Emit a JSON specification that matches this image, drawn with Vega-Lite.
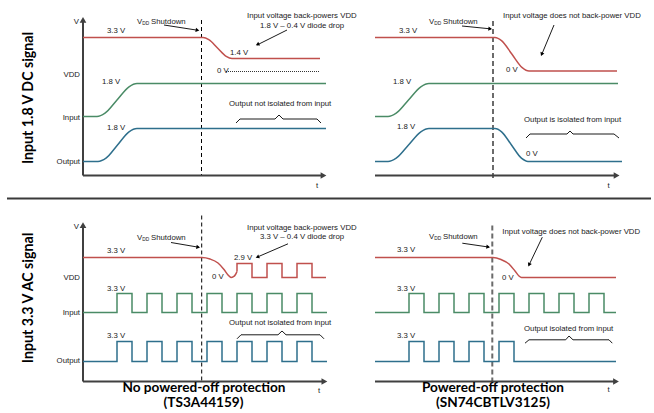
{
"$schema":"https://vega.github.io/schema/vega-lite/v6.json",
"padding":{"left":6,"top":11.5,"right":0,"bottom":3},
"config":{"view":{"stroke":null}},
"data":{"values":[
{"r":"dc","c":"no","k":"curve","s":"A1","g":"VDD","i":0,"t":0,"v":138},
{"r":"dc","c":"no","k":"curve","s":"A1","g":"VDD","i":1,"t":120,"v":138},
{"r":"dc","c":"no","k":"curve","s":"A1","g":"VDD","i":2,"t":125.8,"v":135.9},
{"r":"dc","c":"no","k":"curve","s":"A1","g":"VDD","i":3,"t":134.5,"v":127.5},
{"r":"dc","c":"no","k":"curve","s":"A1","g":"VDD","i":4,"t":143.2,"v":119.1},
{"r":"dc","c":"no","k":"curve","s":"A1","g":"VDD","i":5,"t":149,"v":117},
{"r":"dc","c":"no","k":"curve","s":"A1","g":"VDD","i":6,"t":237,"v":117},
{"r":"dc","c":"no","k":"curve","s":"A2","g":"Input","i":0,"t":0,"v":59},
{"r":"dc","c":"no","k":"curve","s":"A2","g":"Input","i":1,"t":14,"v":59},
{"r":"dc","c":"no","k":"curve","s":"A2","g":"Input","i":2,"t":22,"v":62.3},
{"r":"dc","c":"no","k":"curve","s":"A2","g":"Input","i":3,"t":34,"v":75.5},
{"r":"dc","c":"no","k":"curve","s":"A2","g":"Input","i":4,"t":46,"v":88.7},
{"r":"dc","c":"no","k":"curve","s":"A2","g":"Input","i":5,"t":54,"v":92},
{"r":"dc","c":"no","k":"curve","s":"A2","g":"Input","i":6,"t":243,"v":92},
{"r":"dc","c":"no","k":"curve","s":"A3","g":"Output","i":0,"t":0,"v":14},
{"r":"dc","c":"no","k":"curve","s":"A3","g":"Output","i":1,"t":15,"v":14},
{"r":"dc","c":"no","k":"curve","s":"A3","g":"Output","i":2,"t":23,"v":17.3},
{"r":"dc","c":"no","k":"curve","s":"A3","g":"Output","i":3,"t":34.5,"v":30.5},
{"r":"dc","c":"no","k":"curve","s":"A3","g":"Output","i":4,"t":46,"v":43.7},
{"r":"dc","c":"no","k":"curve","s":"A3","g":"Output","i":5,"t":54,"v":47},
{"r":"dc","c":"no","k":"curve","s":"A3","g":"Output","i":6,"t":243,"v":47},
{"r":"dc","c":"no","k":"note","s":"Aa1","i":0,"t":204,"v":145.5},
{"r":"dc","c":"no","k":"note","s":"Aa1","i":1,"t":174,"v":130.5},
{"r":"dc","c":"no","k":"note","s":"Aa2","i":0,"t":81,"v":150.5},
{"r":"dc","c":"no","k":"note","s":"Aa2","i":1,"t":115,"v":145.2},
{"r":"dc","c":"no","k":"note","s":"Ab","i":0,"t":153,"v":52.5},
{"r":"dc","c":"no","k":"note","s":"Ab","i":1,"t":157,"v":56.5},
{"r":"dc","c":"no","k":"note","s":"Ab","i":2,"t":192,"v":56.5},
{"r":"dc","c":"no","k":"note","s":"Ab","i":3,"t":196,"v":60.5},
{"r":"dc","c":"no","k":"note","s":"Ab","i":4,"t":200,"v":56.5},
{"r":"dc","c":"no","k":"note","s":"Ab","i":5,"t":234,"v":56.5},
{"r":"dc","c":"no","k":"note","s":"Ab","i":6,"t":238,"v":52.5},
{"r":"dc","c":"no","k":"head","t":174.5,"v":131,"ang":244},
{"r":"dc","c":"no","k":"head","t":114.5,"v":145.4,"ang":99},
{"r":"dc","c":"no","k":"axis","s":"Ax","i":0,"t":0,"v":0},
{"r":"dc","c":"no","k":"axis","s":"Ax","i":1,"t":239,"v":0},
{"r":"dc","c":"no","k":"axis","s":"Ay","i":0,"t":0,"v":0},
{"r":"dc","c":"no","k":"axis","s":"Ay","i":1,"t":0,"v":154},
{"r":"dc","c":"no","k":"axhead","t":240.5,"v":0,"ang":90},
{"r":"dc","c":"no","k":"axhead","t":0,"v":155.6,"ang":0},
{"r":"dc","c":"no","k":"dash","s":"Ad","i":0,"t":118.5,"v":155.5},
{"r":"dc","c":"no","k":"dash","s":"Ad","i":1,"t":118.5,"v":0},
{"r":"dc","c":"no","k":"dot","s":"Ao","i":0,"t":143,"v":104},
{"r":"dc","c":"no","k":"dot","s":"Ao","i":1,"t":237,"v":104},
{"r":"dc","c":"no","k":"sep","s":"As","i":0,"t":-76,"v":-23},
{"r":"dc","c":"no","k":"sep","s":"As","i":1,"t":568,"v":-23},
{"r":"dc","c":"no","k":"tl","t":24,"v":144.5,"txt":"3.3 V"},
{"r":"dc","c":"no","k":"tl","t":19,"v":93.5,"txt":"1.8 V"},
{"r":"dc","c":"no","k":"tl","t":24,"v":48,"txt":"1.8 V"},
{"r":"dc","c":"no","k":"tl","t":147,"v":122.5,"txt":"1.4 V"},
{"r":"dc","c":"no","k":"tl","t":134,"v":105,"txt":"0 V"},
{"r":"dc","c":"no","k":"tl","t":164,"v":159.5,"txt":"Input voltage back-powers VDD"},
{"r":"dc","c":"no","k":"tl","t":177,"v":149.5,"txt":"1.8 V – 0.4 V diode drop"},
{"r":"dc","c":"no","k":"tl","t":54,"v":153.5,"txt":"V"},
{"r":"dc","c":"no","k":"tl","t":68,"v":153.5,"txt":"Shutdown"},
{"r":"dc","c":"no","k":"ts","t":59.3,"v":151.5,"txt":"DD"},
{"r":"dc","c":"no","k":"tl","t":146,"v":71.5,"txt":"Output not isolated from input"},
{"r":"dc","c":"no","k":"tl","t":233,"v":-10,"txt":"t"},
{"r":"dc","c":"no","k":"tr","t":-4,"v":153.5,"txt":"V"},
{"r":"dc","c":"no","k":"tr","t":-3,"v":100.5,"txt":"VDD"},
{"r":"dc","c":"no","k":"tr","t":-3,"v":58,"txt":"Input"},
{"r":"dc","c":"no","k":"tr","t":-3,"v":14,"txt":"Output"},
{"r":"dc","c":"no","k":"tv","t":-54.5,"v":77.5,"txt":"Input 1.8 V DC signal"},

{"r":"dc","c":"yes","k":"curve","s":"B1","g":"VDD","i":0,"t":0,"v":138},
{"r":"dc","c":"yes","k":"curve","s":"B1","g":"VDD","i":1,"t":120,"v":138},
{"r":"dc","c":"yes","k":"curve","s":"B1","g":"VDD","i":2,"t":126.8,"v":134.6},
{"r":"dc","c":"yes","k":"curve","s":"B1","g":"VDD","i":3,"t":137,"v":121.2},
{"r":"dc","c":"yes","k":"curve","s":"B1","g":"VDD","i":4,"t":147.2,"v":107.9},
{"r":"dc","c":"yes","k":"curve","s":"B1","g":"VDD","i":5,"t":154,"v":104.5},
{"r":"dc","c":"yes","k":"curve","s":"B1","g":"VDD","i":6,"t":242,"v":104.5},
{"r":"dc","c":"yes","k":"curve","s":"B2","g":"Input","i":0,"t":0,"v":59},
{"r":"dc","c":"yes","k":"curve","s":"B2","g":"Input","i":1,"t":13,"v":59},
{"r":"dc","c":"yes","k":"curve","s":"B2","g":"Input","i":2,"t":21.2,"v":62.3},
{"r":"dc","c":"yes","k":"curve","s":"B2","g":"Input","i":3,"t":33.5,"v":75.5},
{"r":"dc","c":"yes","k":"curve","s":"B2","g":"Input","i":4,"t":45.8,"v":88.7},
{"r":"dc","c":"yes","k":"curve","s":"B2","g":"Input","i":5,"t":54,"v":92},
{"r":"dc","c":"yes","k":"curve","s":"B2","g":"Input","i":6,"t":243,"v":92},
{"r":"dc","c":"yes","k":"curve","s":"B3","g":"Output","i":0,"t":0,"v":14},
{"r":"dc","c":"yes","k":"curve","s":"B3","g":"Output","i":1,"t":13,"v":14},
{"r":"dc","c":"yes","k":"curve","s":"B3","g":"Output","i":2,"t":21.2,"v":17.3},
{"r":"dc","c":"yes","k":"curve","s":"B3","g":"Output","i":3,"t":33.5,"v":30.5},
{"r":"dc","c":"yes","k":"curve","s":"B3","g":"Output","i":4,"t":45.8,"v":43.7},
{"r":"dc","c":"yes","k":"curve","s":"B3","g":"Output","i":5,"t":54,"v":47},
{"r":"dc","c":"yes","k":"curve","s":"B3","g":"Output","i":6,"t":120,"v":47},
{"r":"dc","c":"yes","k":"curve","s":"B3","g":"Output","i":7,"t":126.6,"v":43.7},
{"r":"dc","c":"yes","k":"curve","s":"B3","g":"Output","i":8,"t":136.5,"v":30.5},
{"r":"dc","c":"yes","k":"curve","s":"B3","g":"Output","i":9,"t":146.4,"v":17.3},
{"r":"dc","c":"yes","k":"curve","s":"B3","g":"Output","i":10,"t":153,"v":14},
{"r":"dc","c":"yes","k":"curve","s":"B3","g":"Output","i":11,"t":247,"v":14},
{"r":"dc","c":"yes","k":"note","s":"Ba1","i":0,"t":87,"v":149.5},
{"r":"dc","c":"yes","k":"note","s":"Ba1","i":1,"t":116,"v":146.6},
{"r":"dc","c":"yes","k":"note","s":"Ba2","i":0,"t":179,"v":150.5},
{"r":"dc","c":"yes","k":"note","s":"Ba2","i":1,"t":166.5,"v":120.5},
{"r":"dc","c":"yes","k":"note","s":"Bb","i":0,"t":151,"v":37.5},
{"r":"dc","c":"yes","k":"note","s":"Bb","i":1,"t":155,"v":41.5},
{"r":"dc","c":"yes","k":"note","s":"Bb","i":2,"t":192,"v":41.5},
{"r":"dc","c":"yes","k":"note","s":"Bb","i":3,"t":195,"v":44.5},
{"r":"dc","c":"yes","k":"note","s":"Bb","i":4,"t":198,"v":41.5},
{"r":"dc","c":"yes","k":"note","s":"Bb","i":5,"t":239,"v":41.5},
{"r":"dc","c":"yes","k":"note","s":"Bb","i":6,"t":244,"v":37.5},
{"r":"dc","c":"yes","k":"head","t":115.2,"v":146.7,"ang":96},
{"r":"dc","c":"yes","k":"head","t":166.7,"v":121.2,"ang":203},
{"r":"dc","c":"yes","k":"axis","s":"Bx","i":0,"t":0,"v":0},
{"r":"dc","c":"yes","k":"axis","s":"Bx","i":1,"t":240,"v":0},
{"r":"dc","c":"yes","k":"axhead","t":241.6,"v":0,"ang":90},
{"r":"dc","c":"yes","k":"dash","s":"Bd","i":0,"t":118,"v":154.5},
{"r":"dc","c":"yes","k":"dash","s":"Bd","i":1,"t":118,"v":-2.5},
{"r":"dc","c":"yes","k":"tl","t":24,"v":144.5,"txt":"3.3 V"},
{"r":"dc","c":"yes","k":"tl","t":18,"v":93.5,"txt":"1.8 V"},
{"r":"dc","c":"yes","k":"tl","t":22,"v":48.5,"txt":"1.8 V"},
{"r":"dc","c":"yes","k":"tl","t":131,"v":105.5,"txt":"0 V"},
{"r":"dc","c":"yes","k":"tl","t":151,"v":21.5,"txt":"0 V"},
{"r":"dc","c":"yes","k":"tl","t":128,"v":159.5,"txt":"Input voltage does not back-power VDD"},
{"r":"dc","c":"yes","k":"tl","t":54,"v":153.5,"txt":"V"},
{"r":"dc","c":"yes","k":"tl","t":68,"v":153.5,"txt":"Shutdown"},
{"r":"dc","c":"yes","k":"ts","t":59.3,"v":151.5,"txt":"DD"},
{"r":"dc","c":"yes","k":"tl","t":149,"v":55.5,"txt":"Output is isolated from input"},
{"r":"dc","c":"yes","k":"tl","t":232.5,"v":-10,"txt":"t"},

{"r":"ac","c":"no","k":"curve","s":"C1","g":"VDD","i":0,"t":0,"v":124},
{"r":"ac","c":"no","k":"curve","s":"C1","g":"VDD","i":1,"t":119,"v":124},
{"r":"ac","c":"no","k":"curve","s":"C1","g":"VDD","i":2,"t":127,"v":122.5},
{"r":"ac","c":"no","k":"curve","s":"C1","g":"VDD","i":3,"t":135,"v":118.5},
{"r":"ac","c":"no","k":"curve","s":"C1","g":"VDD","i":4,"t":141,"v":112},
{"r":"ac","c":"no","k":"curve","s":"C1","g":"VDD","i":5,"t":145.5,"v":106},
{"r":"ac","c":"no","k":"curve","s":"C1","g":"VDD","i":6,"t":148,"v":104},
{"r":"ac","c":"no","k":"curve","s":"C1","g":"VDD","i":7,"t":150.5,"v":104.8},
{"r":"ac","c":"no","k":"curve","s":"C1","g":"VDD","i":8,"t":152.5,"v":107},
{"r":"ac","c":"no","k":"curve","s":"C1","g":"VDD","i":9,"t":154,"v":110},
{"r":"ac","c":"no","k":"step","s":"C2","g":"VDD","i":0,"t":154,"v":110},
{"r":"ac","c":"no","k":"step","s":"C2","g":"VDD","i":1,"t":154,"v":118},
{"r":"ac","c":"no","k":"step","s":"C2","g":"VDD","i":2,"t":169,"v":118},
{"r":"ac","c":"no","k":"step","s":"C2","g":"VDD","i":3,"t":169,"v":104},
{"r":"ac","c":"no","k":"step","s":"C2","g":"VDD","i":4,"t":184,"v":104},
{"r":"ac","c":"no","k":"step","s":"C2","g":"VDD","i":5,"t":184,"v":118},
{"r":"ac","c":"no","k":"step","s":"C2","g":"VDD","i":6,"t":199,"v":118},
{"r":"ac","c":"no","k":"step","s":"C2","g":"VDD","i":7,"t":199,"v":104},
{"r":"ac","c":"no","k":"step","s":"C2","g":"VDD","i":8,"t":214,"v":104},
{"r":"ac","c":"no","k":"step","s":"C2","g":"VDD","i":9,"t":214,"v":118},
{"r":"ac","c":"no","k":"step","s":"C2","g":"VDD","i":10,"t":229,"v":118},
{"r":"ac","c":"no","k":"step","s":"C2","g":"VDD","i":11,"t":229,"v":104},
{"r":"ac","c":"no","k":"step","s":"C2","g":"VDD","i":12,"t":243,"v":104},
{"r":"ac","c":"no","k":"step","s":"C3","g":"Input","i":0,"t":0,"v":69},
{"r":"ac","c":"no","k":"step","s":"C3","g":"Input","i":1,"t":34,"v":69},
{"r":"ac","c":"no","k":"step","s":"C3","g":"Input","i":2,"t":34,"v":88},
{"r":"ac","c":"no","k":"step","s":"C3","g":"Input","i":3,"t":49,"v":88},
{"r":"ac","c":"no","k":"step","s":"C3","g":"Input","i":4,"t":49,"v":69},
{"r":"ac","c":"no","k":"step","s":"C3","g":"Input","i":5,"t":64,"v":69},
{"r":"ac","c":"no","k":"step","s":"C3","g":"Input","i":6,"t":64,"v":88},
{"r":"ac","c":"no","k":"step","s":"C3","g":"Input","i":7,"t":79,"v":88},
{"r":"ac","c":"no","k":"step","s":"C3","g":"Input","i":8,"t":79,"v":69},
{"r":"ac","c":"no","k":"step","s":"C3","g":"Input","i":9,"t":94,"v":69},
{"r":"ac","c":"no","k":"step","s":"C3","g":"Input","i":10,"t":94,"v":88},
{"r":"ac","c":"no","k":"step","s":"C3","g":"Input","i":11,"t":109,"v":88},
{"r":"ac","c":"no","k":"step","s":"C3","g":"Input","i":12,"t":109,"v":69},
{"r":"ac","c":"no","k":"step","s":"C3","g":"Input","i":13,"t":124,"v":69},
{"r":"ac","c":"no","k":"step","s":"C3","g":"Input","i":14,"t":124,"v":88},
{"r":"ac","c":"no","k":"step","s":"C3","g":"Input","i":15,"t":139,"v":88},
{"r":"ac","c":"no","k":"step","s":"C3","g":"Input","i":16,"t":139,"v":69},
{"r":"ac","c":"no","k":"step","s":"C3","g":"Input","i":17,"t":154,"v":69},
{"r":"ac","c":"no","k":"step","s":"C3","g":"Input","i":18,"t":154,"v":88},
{"r":"ac","c":"no","k":"step","s":"C3","g":"Input","i":19,"t":169,"v":88},
{"r":"ac","c":"no","k":"step","s":"C3","g":"Input","i":20,"t":169,"v":69},
{"r":"ac","c":"no","k":"step","s":"C3","g":"Input","i":21,"t":184,"v":69},
{"r":"ac","c":"no","k":"step","s":"C3","g":"Input","i":22,"t":184,"v":88},
{"r":"ac","c":"no","k":"step","s":"C3","g":"Input","i":23,"t":199,"v":88},
{"r":"ac","c":"no","k":"step","s":"C3","g":"Input","i":24,"t":199,"v":69},
{"r":"ac","c":"no","k":"step","s":"C3","g":"Input","i":25,"t":214,"v":69},
{"r":"ac","c":"no","k":"step","s":"C3","g":"Input","i":26,"t":214,"v":88},
{"r":"ac","c":"no","k":"step","s":"C3","g":"Input","i":27,"t":229,"v":88},
{"r":"ac","c":"no","k":"step","s":"C3","g":"Input","i":28,"t":229,"v":69},
{"r":"ac","c":"no","k":"step","s":"C3","g":"Input","i":29,"t":244,"v":69},
{"r":"ac","c":"no","k":"step","s":"C4","g":"Output","i":0,"t":0,"v":20},
{"r":"ac","c":"no","k":"step","s":"C4","g":"Output","i":1,"t":34,"v":20},
{"r":"ac","c":"no","k":"step","s":"C4","g":"Output","i":2,"t":34,"v":40},
{"r":"ac","c":"no","k":"step","s":"C4","g":"Output","i":3,"t":49,"v":40},
{"r":"ac","c":"no","k":"step","s":"C4","g":"Output","i":4,"t":49,"v":20},
{"r":"ac","c":"no","k":"step","s":"C4","g":"Output","i":5,"t":64,"v":20},
{"r":"ac","c":"no","k":"step","s":"C4","g":"Output","i":6,"t":64,"v":40},
{"r":"ac","c":"no","k":"step","s":"C4","g":"Output","i":7,"t":79,"v":40},
{"r":"ac","c":"no","k":"step","s":"C4","g":"Output","i":8,"t":79,"v":20},
{"r":"ac","c":"no","k":"step","s":"C4","g":"Output","i":9,"t":94,"v":20},
{"r":"ac","c":"no","k":"step","s":"C4","g":"Output","i":10,"t":94,"v":40},
{"r":"ac","c":"no","k":"step","s":"C4","g":"Output","i":11,"t":109,"v":40},
{"r":"ac","c":"no","k":"step","s":"C4","g":"Output","i":12,"t":109,"v":20},
{"r":"ac","c":"no","k":"step","s":"C4","g":"Output","i":13,"t":124,"v":20},
{"r":"ac","c":"no","k":"step","s":"C4","g":"Output","i":14,"t":124,"v":40},
{"r":"ac","c":"no","k":"step","s":"C4","g":"Output","i":15,"t":139,"v":40},
{"r":"ac","c":"no","k":"step","s":"C4","g":"Output","i":16,"t":139,"v":20},
{"r":"ac","c":"no","k":"step","s":"C4","g":"Output","i":17,"t":154,"v":20},
{"r":"ac","c":"no","k":"step","s":"C4","g":"Output","i":18,"t":154,"v":40},
{"r":"ac","c":"no","k":"step","s":"C4","g":"Output","i":19,"t":169,"v":40},
{"r":"ac","c":"no","k":"step","s":"C4","g":"Output","i":20,"t":169,"v":20},
{"r":"ac","c":"no","k":"step","s":"C4","g":"Output","i":21,"t":184,"v":20},
{"r":"ac","c":"no","k":"step","s":"C4","g":"Output","i":22,"t":184,"v":40},
{"r":"ac","c":"no","k":"step","s":"C4","g":"Output","i":23,"t":199,"v":40},
{"r":"ac","c":"no","k":"step","s":"C4","g":"Output","i":24,"t":199,"v":20},
{"r":"ac","c":"no","k":"step","s":"C4","g":"Output","i":25,"t":214,"v":20},
{"r":"ac","c":"no","k":"step","s":"C4","g":"Output","i":26,"t":214,"v":40},
{"r":"ac","c":"no","k":"step","s":"C4","g":"Output","i":27,"t":229,"v":40},
{"r":"ac","c":"no","k":"step","s":"C4","g":"Output","i":28,"t":229,"v":20},
{"r":"ac","c":"no","k":"step","s":"C4","g":"Output","i":29,"t":244,"v":20},
{"r":"ac","c":"no","k":"note","s":"Ca1","i":0,"t":88,"v":139},
{"r":"ac","c":"no","k":"note","s":"Ca1","i":1,"t":116,"v":134.2},
{"r":"ac","c":"no","k":"note","s":"Ca2","i":0,"t":205,"v":137.7},
{"r":"ac","c":"no","k":"note","s":"Ca2","i":1,"t":174,"v":124.3},
{"r":"ac","c":"no","k":"note","s":"Cb","i":0,"t":154,"v":42.7},
{"r":"ac","c":"no","k":"note","s":"Cb","i":1,"t":158,"v":46.7},
{"r":"ac","c":"no","k":"note","s":"Cb","i":2,"t":195,"v":46.7},
{"r":"ac","c":"no","k":"note","s":"Cb","i":3,"t":199,"v":50.5},
{"r":"ac","c":"no","k":"note","s":"Cb","i":4,"t":203,"v":46.7},
{"r":"ac","c":"no","k":"note","s":"Cb","i":5,"t":237,"v":46.7},
{"r":"ac","c":"no","k":"note","s":"Cb","i":6,"t":241,"v":42.7},
{"r":"ac","c":"no","k":"head","t":115.2,"v":134.3,"ang":100},
{"r":"ac","c":"no","k":"head","t":174.4,"v":124.4,"ang":247},
{"r":"ac","c":"no","k":"axis","s":"Cx","i":0,"t":0,"v":0},
{"r":"ac","c":"no","k":"axis","s":"Cx","i":1,"t":239,"v":0},
{"r":"ac","c":"no","k":"axis","s":"Cy","i":0,"t":0,"v":0},
{"r":"ac","c":"no","k":"axis","s":"Cy","i":1,"t":0,"v":155},
{"r":"ac","c":"no","k":"axhead","t":241.4,"v":0,"ang":90},
{"r":"ac","c":"no","k":"axhead","t":0,"v":156.4,"ang":0},
{"r":"ac","c":"no","k":"dash","s":"Cd","i":0,"t":118.7,"v":166},
{"r":"ac","c":"no","k":"dash","s":"Cd","i":1,"t":118.7,"v":0},
{"r":"ac","c":"no","k":"tl","t":24,"v":131,"txt":"3.3 V"},
{"r":"ac","c":"no","k":"tl","t":24,"v":93,"txt":"3.3 V"},
{"r":"ac","c":"no","k":"tl","t":24,"v":45.3,"txt":"3.3 V"},
{"r":"ac","c":"no","k":"tl","t":129,"v":105,"txt":"0 V"},
{"r":"ac","c":"no","k":"tl","t":151,"v":123.3,"txt":"2.9 V"},
{"r":"ac","c":"no","k":"tl","t":54,"v":144,"txt":"V"},
{"r":"ac","c":"no","k":"tl","t":68,"v":144,"txt":"Shutdown"},
{"r":"ac","c":"no","k":"ts","t":59.3,"v":142,"txt":"DD"},
{"r":"ac","c":"no","k":"tl","t":164,"v":153.3,"txt":"Input voltage back-powers VDD"},
{"r":"ac","c":"no","k":"tl","t":177,"v":144.2,"txt":"3.3 V – 0.4 V diode drop"},
{"r":"ac","c":"no","k":"tl","t":146,"v":58.7,"txt":"Output not isolated from input"},
{"r":"ac","c":"no","k":"tl","t":235,"v":-9.7,"txt":"t"},
{"r":"ac","c":"no","k":"tr","t":-4,"v":154.3,"txt":"V"},
{"r":"ac","c":"no","k":"tr","t":-3,"v":103.3,"txt":"VDD"},
{"r":"ac","c":"no","k":"tr","t":-3,"v":69,"txt":"Input"},
{"r":"ac","c":"no","k":"tr","t":-3,"v":20.3,"txt":"Output"},
{"r":"ac","c":"no","k":"tv","t":-54.5,"v":83.5,"txt":"Input 3.3 V AC signal"},
{"r":"ac","c":"no","k":"tb","t":121,"v":-6.7,"txt":"No powered-off protection"},
{"r":"ac","c":"no","k":"tb","t":120.5,"v":-21.3,"txt":"(TS3A44159)"},

{"r":"ac","c":"yes","k":"curve","s":"D1","g":"VDD","i":0,"t":0,"v":124},
{"r":"ac","c":"yes","k":"curve","s":"D1","g":"VDD","i":1,"t":118,"v":124},
{"r":"ac","c":"yes","k":"curve","s":"D1","g":"VDD","i":2,"t":126,"v":122},
{"r":"ac","c":"yes","k":"curve","s":"D1","g":"VDD","i":3,"t":134,"v":117.5},
{"r":"ac","c":"yes","k":"curve","s":"D1","g":"VDD","i":4,"t":140,"v":110.5},
{"r":"ac","c":"yes","k":"curve","s":"D1","g":"VDD","i":5,"t":144,"v":105.5},
{"r":"ac","c":"yes","k":"curve","s":"D1","g":"VDD","i":6,"t":146.5,"v":104},
{"r":"ac","c":"yes","k":"curve","s":"D1","g":"VDD","i":7,"t":241,"v":104},
{"r":"ac","c":"yes","k":"step","s":"D2","g":"Input","i":0,"t":0,"v":69},
{"r":"ac","c":"yes","k":"step","s":"D2","g":"Input","i":1,"t":34,"v":69},
{"r":"ac","c":"yes","k":"step","s":"D2","g":"Input","i":2,"t":34,"v":88},
{"r":"ac","c":"yes","k":"step","s":"D2","g":"Input","i":3,"t":49,"v":88},
{"r":"ac","c":"yes","k":"step","s":"D2","g":"Input","i":4,"t":49,"v":69},
{"r":"ac","c":"yes","k":"step","s":"D2","g":"Input","i":5,"t":64,"v":69},
{"r":"ac","c":"yes","k":"step","s":"D2","g":"Input","i":6,"t":64,"v":88},
{"r":"ac","c":"yes","k":"step","s":"D2","g":"Input","i":7,"t":79,"v":88},
{"r":"ac","c":"yes","k":"step","s":"D2","g":"Input","i":8,"t":79,"v":69},
{"r":"ac","c":"yes","k":"step","s":"D2","g":"Input","i":9,"t":94,"v":69},
{"r":"ac","c":"yes","k":"step","s":"D2","g":"Input","i":10,"t":94,"v":88},
{"r":"ac","c":"yes","k":"step","s":"D2","g":"Input","i":11,"t":109,"v":88},
{"r":"ac","c":"yes","k":"step","s":"D2","g":"Input","i":12,"t":109,"v":69},
{"r":"ac","c":"yes","k":"step","s":"D2","g":"Input","i":13,"t":124,"v":69},
{"r":"ac","c":"yes","k":"step","s":"D2","g":"Input","i":14,"t":124,"v":88},
{"r":"ac","c":"yes","k":"step","s":"D2","g":"Input","i":15,"t":139,"v":88},
{"r":"ac","c":"yes","k":"step","s":"D2","g":"Input","i":16,"t":139,"v":69},
{"r":"ac","c":"yes","k":"step","s":"D2","g":"Input","i":17,"t":154,"v":69},
{"r":"ac","c":"yes","k":"step","s":"D2","g":"Input","i":18,"t":154,"v":88},
{"r":"ac","c":"yes","k":"step","s":"D2","g":"Input","i":19,"t":169,"v":88},
{"r":"ac","c":"yes","k":"step","s":"D2","g":"Input","i":20,"t":169,"v":69},
{"r":"ac","c":"yes","k":"step","s":"D2","g":"Input","i":21,"t":184,"v":69},
{"r":"ac","c":"yes","k":"step","s":"D2","g":"Input","i":22,"t":184,"v":88},
{"r":"ac","c":"yes","k":"step","s":"D2","g":"Input","i":23,"t":199,"v":88},
{"r":"ac","c":"yes","k":"step","s":"D2","g":"Input","i":24,"t":199,"v":69},
{"r":"ac","c":"yes","k":"step","s":"D2","g":"Input","i":25,"t":214,"v":69},
{"r":"ac","c":"yes","k":"step","s":"D2","g":"Input","i":26,"t":214,"v":88},
{"r":"ac","c":"yes","k":"step","s":"D2","g":"Input","i":27,"t":229,"v":88},
{"r":"ac","c":"yes","k":"step","s":"D2","g":"Input","i":28,"t":229,"v":69},
{"r":"ac","c":"yes","k":"step","s":"D2","g":"Input","i":29,"t":241,"v":69},
{"r":"ac","c":"yes","k":"step","s":"D3","g":"Output","i":0,"t":0,"v":20},
{"r":"ac","c":"yes","k":"step","s":"D3","g":"Output","i":1,"t":34,"v":20},
{"r":"ac","c":"yes","k":"step","s":"D3","g":"Output","i":2,"t":34,"v":40},
{"r":"ac","c":"yes","k":"step","s":"D3","g":"Output","i":3,"t":49,"v":40},
{"r":"ac","c":"yes","k":"step","s":"D3","g":"Output","i":4,"t":49,"v":20},
{"r":"ac","c":"yes","k":"step","s":"D3","g":"Output","i":5,"t":64,"v":20},
{"r":"ac","c":"yes","k":"step","s":"D3","g":"Output","i":6,"t":64,"v":40},
{"r":"ac","c":"yes","k":"step","s":"D3","g":"Output","i":7,"t":79,"v":40},
{"r":"ac","c":"yes","k":"step","s":"D3","g":"Output","i":8,"t":79,"v":20},
{"r":"ac","c":"yes","k":"step","s":"D3","g":"Output","i":9,"t":94,"v":20},
{"r":"ac","c":"yes","k":"step","s":"D3","g":"Output","i":10,"t":94,"v":40},
{"r":"ac","c":"yes","k":"step","s":"D3","g":"Output","i":11,"t":109,"v":40},
{"r":"ac","c":"yes","k":"step","s":"D3","g":"Output","i":12,"t":109,"v":20},
{"r":"ac","c":"yes","k":"step","s":"D3","g":"Output","i":13,"t":124,"v":20},
{"r":"ac","c":"yes","k":"step","s":"D3","g":"Output","i":14,"t":124,"v":40},
{"r":"ac","c":"yes","k":"step","s":"D3","g":"Output","i":15,"t":139,"v":40},
{"r":"ac","c":"yes","k":"step","s":"D3","g":"Output","i":16,"t":139,"v":20},
{"r":"ac","c":"yes","k":"step","s":"D3","g":"Output","i":17,"t":241,"v":20},
{"r":"ac","c":"yes","k":"note","s":"Da1","i":0,"t":87.3,"v":138.3},
{"r":"ac","c":"yes","k":"note","s":"Da1","i":1,"t":114,"v":134.4},
{"r":"ac","c":"yes","k":"note","s":"Da2","i":0,"t":167.3,"v":144.3},
{"r":"ac","c":"yes","k":"note","s":"Da2","i":1,"t":154,"v":116.5},
{"r":"ac","c":"yes","k":"note","s":"Db","i":0,"t":150,"v":38.3},
{"r":"ac","c":"yes","k":"note","s":"Db","i":1,"t":154,"v":41.7},
{"r":"ac","c":"yes","k":"note","s":"Db","i":2,"t":190.7,"v":41.7},
{"r":"ac","c":"yes","k":"note","s":"Db","i":3,"t":194,"v":45.5},
{"r":"ac","c":"yes","k":"note","s":"Db","i":4,"t":198,"v":41.7},
{"r":"ac","c":"yes","k":"note","s":"Db","i":5,"t":234,"v":41.7},
{"r":"ac","c":"yes","k":"note","s":"Db","i":6,"t":237.3,"v":38.3},
{"r":"ac","c":"yes","k":"head","t":113.2,"v":134.6,"ang":98},
{"r":"ac","c":"yes","k":"head","t":154.1,"v":116.7,"ang":205},
{"r":"ac","c":"yes","k":"axis","s":"Dx","i":0,"t":0,"v":0},
{"r":"ac","c":"yes","k":"axis","s":"Dx","i":1,"t":240,"v":0},
{"r":"ac","c":"yes","k":"axhead","t":241,"v":0,"ang":90},
{"r":"ac","c":"yes","k":"dash","s":"Dd","i":0,"t":117.3,"v":156},
{"r":"ac","c":"yes","k":"dash","s":"Dd","i":1,"t":117.3,"v":-0.7},
{"r":"ac","c":"yes","k":"tl","t":22,"v":131.7,"txt":"3.3 V"},
{"r":"ac","c":"yes","k":"tl","t":22,"v":92.7,"txt":"3.3 V"},
{"r":"ac","c":"yes","k":"tl","t":22,"v":46,"txt":"3.3 V"},
{"r":"ac","c":"yes","k":"tl","t":127,"v":103.7,"txt":"0 V"},
{"r":"ac","c":"yes","k":"tl","t":54,"v":144.3,"txt":"V"},
{"r":"ac","c":"yes","k":"tl","t":68,"v":144.3,"txt":"Shutdown"},
{"r":"ac","c":"yes","k":"ts","t":59.3,"v":142.3,"txt":"DD"},
{"r":"ac","c":"yes","k":"tl","t":127.3,"v":149.3,"txt":"Input voltage does not back-power VDD"},
{"r":"ac","c":"yes","k":"tl","t":149,"v":52.7,"txt":"Output isolated from input"},
{"r":"ac","c":"yes","k":"tl","t":232.5,"v":-8.3,"txt":"t"},
{"r":"ac","c":"yes","k":"tb","t":118,"v":-6.7,"txt":"Powered-off protection"},
{"r":"ac","c":"yes","k":"tb","t":118,"v":-21.3,"txt":"(SN74CBTLV3125)"}
]},
"facet":{
 "row":{"field":"r","type":"nominal","sort":["dc","ac"],"header":{"labels":false,"title":null}},
 "column":{"field":"c","type":"nominal","sort":["no","yes"],"header":{"labels":false,"title":null}}
},
"spacing":{"row":46,"column":48},
"bounds":"flush",
"spec":{
 "width":244,"height":160,
 "encoding":{
  "x":{"field":"t","type":"quantitative","scale":{"domain":[0,244],"nice":false,"zero":false},"axis":null},
  "y":{"field":"v","type":"quantitative","scale":{"domain":[0,160],"nice":false,"zero":false},"axis":null}
 },
 "layer":[
  {"transform":[{"filter":"datum.k==='sep'"}],"mark":{"type":"line","stroke":"#3a3a3a","strokeWidth":2,"strokeJoin":"round","clip":false},"encoding":{"detail":{"field":"s"},"order":{"field":"i","type":"quantitative"}}},
  {"transform":[{"filter":"datum.k==='dash' && datum.c==='no'"}],"mark":{"type":"line","stroke":"#000000","strokeWidth":1,"strokeDash":[4,3]},"encoding":{"detail":{"field":"s"},"order":{"field":"i","type":"quantitative"}}},
  {"transform":[{"filter":"datum.k==='dash' && datum.c==='yes'"}],"mark":{"type":"line","stroke":"#6b6b6b","strokeWidth":2,"strokeDash":[5,3]},"encoding":{"detail":{"field":"s"},"order":{"field":"i","type":"quantitative"}}},
  {"transform":[{"filter":"datum.k==='dot'"}],"mark":{"type":"line","stroke":"#000000","strokeWidth":0.8,"strokeDash":[1,1]},"encoding":{"detail":{"field":"s"},"order":{"field":"i","type":"quantitative"}}},
  {"transform":[{"filter":"datum.k==='axis'"}],"mark":{"type":"line","stroke":"#404040","strokeWidth":2},"encoding":{"detail":{"field":"s"},"order":{"field":"i","type":"quantitative"}}},
  {"transform":[{"filter":"datum.k==='axhead'"}],"mark":{"type":"point","shape":"triangle-up","filled":true,"color":"#404040","opacity":1,"size":45},"encoding":{"angle":{"field":"ang","type":"quantitative","scale":null}}},
  {"transform":[{"filter":"datum.k==='curve'"}],"mark":{"type":"line","interpolate":"monotone","strokeWidth":1.5},"encoding":{"detail":{"field":"s"},"order":{"field":"i","type":"quantitative"},"color":{"field":"g","type":"nominal","scale":{"domain":["VDD","Input","Output"],"range":["#c0504d","#4a8b66","#2e6f8c"]},"legend":null}}},
  {"transform":[{"filter":"datum.k==='step'"}],"mark":{"type":"line","interpolate":"linear","strokeWidth":1.5},"encoding":{"detail":{"field":"s"},"order":{"field":"i","type":"quantitative"},"color":{"field":"g","type":"nominal","scale":{"domain":["VDD","Input","Output"],"range":["#c0504d","#4a8b66","#2e6f8c"]},"legend":null}}},
  {"transform":[{"filter":"datum.k==='note'"}],"mark":{"type":"line","stroke":"#000000","strokeWidth":0.9},"encoding":{"detail":{"field":"s"},"order":{"field":"i","type":"quantitative"}}},
  {"transform":[{"filter":"datum.k==='head'"}],"mark":{"type":"point","shape":"triangle-up","filled":true,"color":"#000000","opacity":1,"size":18},"encoding":{"angle":{"field":"ang","type":"quantitative","scale":null}}},
  {"transform":[{"filter":"datum.k==='tl'"}],"mark":{"type":"text","align":"left","baseline":"middle","font":"Liberation Sans","fontSize":7.8,"color":"#1a1a1a"},"encoding":{"text":{"field":"txt"}}},
  {"transform":[{"filter":"datum.k==='tr'"}],"mark":{"type":"text","align":"right","baseline":"middle","font":"Liberation Sans","fontSize":7.8,"color":"#1a1a1a"},"encoding":{"text":{"field":"txt"}}},
  {"transform":[{"filter":"datum.k==='ts'"}],"mark":{"type":"text","align":"left","baseline":"middle","font":"Liberation Sans","fontSize":4.8,"color":"#1a1a1a"},"encoding":{"text":{"field":"txt"}}},
  {"transform":[{"filter":"datum.k==='tb'"}],"mark":{"type":"text","align":"center","baseline":"middle","font":"Lato","fontWeight":"bold","fontSize":13.6,"color":"#000000"},"encoding":{"text":{"field":"txt"}}},
  {"transform":[{"filter":"datum.k==='tv'"}],"mark":{"type":"text","align":"center","baseline":"middle","font":"Lato","fontWeight":"bold","fontSize":14.2,"angle":270,"color":"#000000"},"encoding":{"text":{"field":"txt"}}}
 ]
}
}
